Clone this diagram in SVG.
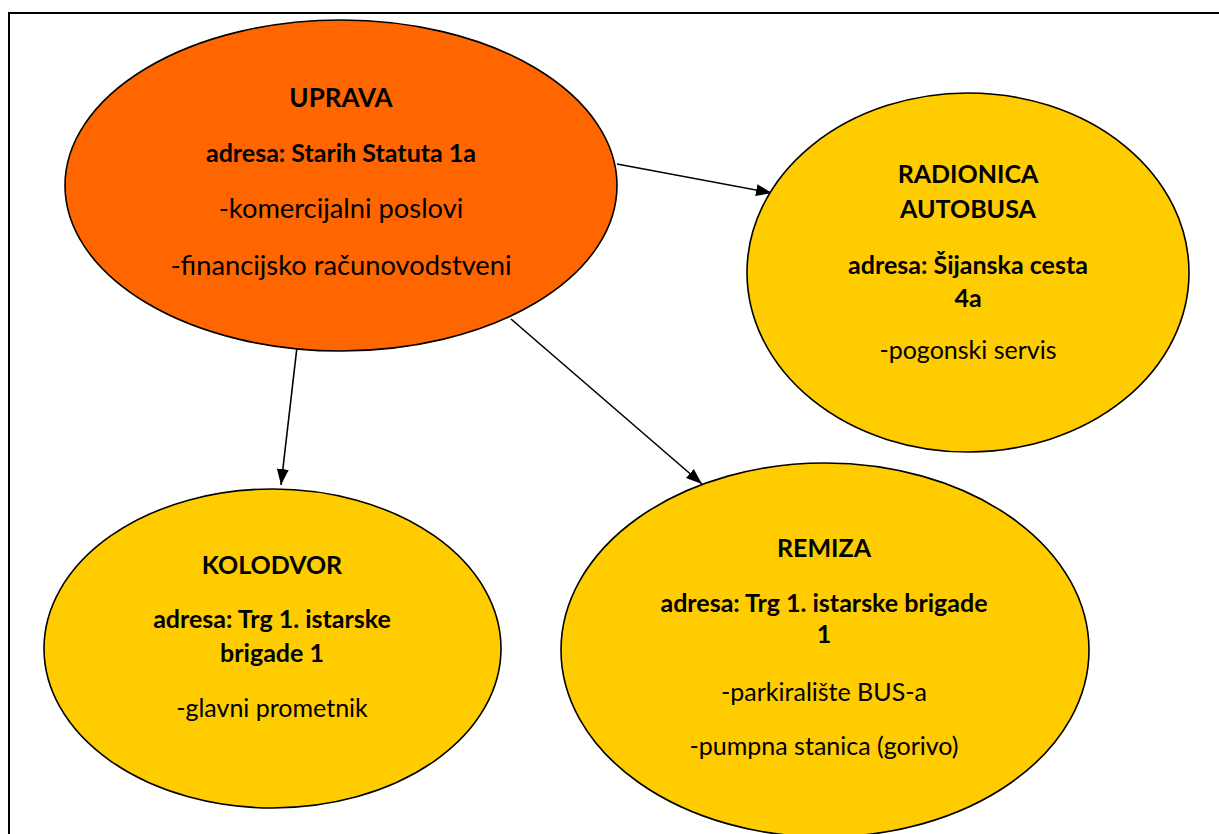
<svg xmlns="http://www.w3.org/2000/svg" width="1219" height="834" viewBox="0 0 1219 834">
<style>
.node{stroke:#000;stroke-width:1.6}
.orange{fill:#FF6600}
.yellow{fill:#FFCC00}
text{font-family:Lato,"Open Sans","Liberation Sans",sans-serif;fill:#000;text-anchor:middle;font-size:25px}
.b{font-weight:bold}
.big{font-size:27.3px}
.edge{stroke:#000;stroke-width:1.6;fill:none;marker-end:url(#arr)}
</style>
<defs>
<marker id="arr" markerUnits="userSpaceOnUse" markerWidth="17" markerHeight="13" refX="16" refY="6.5" orient="auto">
<path d="M0,0.5 L16,6.5 L0,12.5 z" fill="#000"/>
</marker>
</defs>
<rect x="9" y="13" width="1240" height="850" fill="#fff" stroke="#000" stroke-width="2"/>
<g id="connectors">
<line class="edge" x1="617" y1="164" x2="772" y2="193"/>
<line class="edge" x1="297" y1="347" x2="281" y2="485"/>
<line class="edge" x1="511" y1="319" x2="702" y2="484"/>
</g>
<g id="uprava">
<ellipse class="node orange" cx="341" cy="185.5" rx="276" ry="165.5"/>
<text class="b" x="341" y="107" style="font-size:26px">UPRAVA</text>
<text class="b" x="341" y="162">adresa: Starih Statuta 1a</text>
<text class="big" x="341" y="218">-komercijalni poslovi</text>
<text class="big" x="341" y="275">-financijsko računovodstveni</text>
</g>
<g id="radionica">
<ellipse class="node yellow" cx="968" cy="272.5" rx="221" ry="179.5"/>
<text class="b" x="968" y="183">RADIONICA</text>
<text class="b" x="968" y="218">AUTOBUSA</text>
<text class="b" x="968" y="274">adresa: Šijanska cesta</text>
<text class="b" x="968" y="307">4a</text>
<text x="968" y="359">-pogonski servis</text>
</g>
<g id="kolodvor">
<ellipse class="node yellow" cx="272.5" cy="648.5" rx="228.5" ry="159.5"/>
<text class="b" x="272" y="574">KOLODVOR</text>
<text class="b" x="272" y="628">adresa: Trg 1. istarske</text>
<text class="b" x="272" y="662">brigade 1</text>
<text x="272" y="717">-glavni prometnik</text>
</g>
<g id="remiza">
<ellipse class="node yellow" cx="825" cy="650" rx="264" ry="187"/>
<text class="b" x="824" y="557">REMIZA</text>
<text class="b" x="824" y="612">adresa: Trg 1. istarske brigade</text>
<text class="b" x="824" y="643">1</text>
<text x="824" y="701">-parkiralište BUS-a</text>
<text x="824" y="755">-pumpna stanica (gorivo)</text>
</g>
</svg>
